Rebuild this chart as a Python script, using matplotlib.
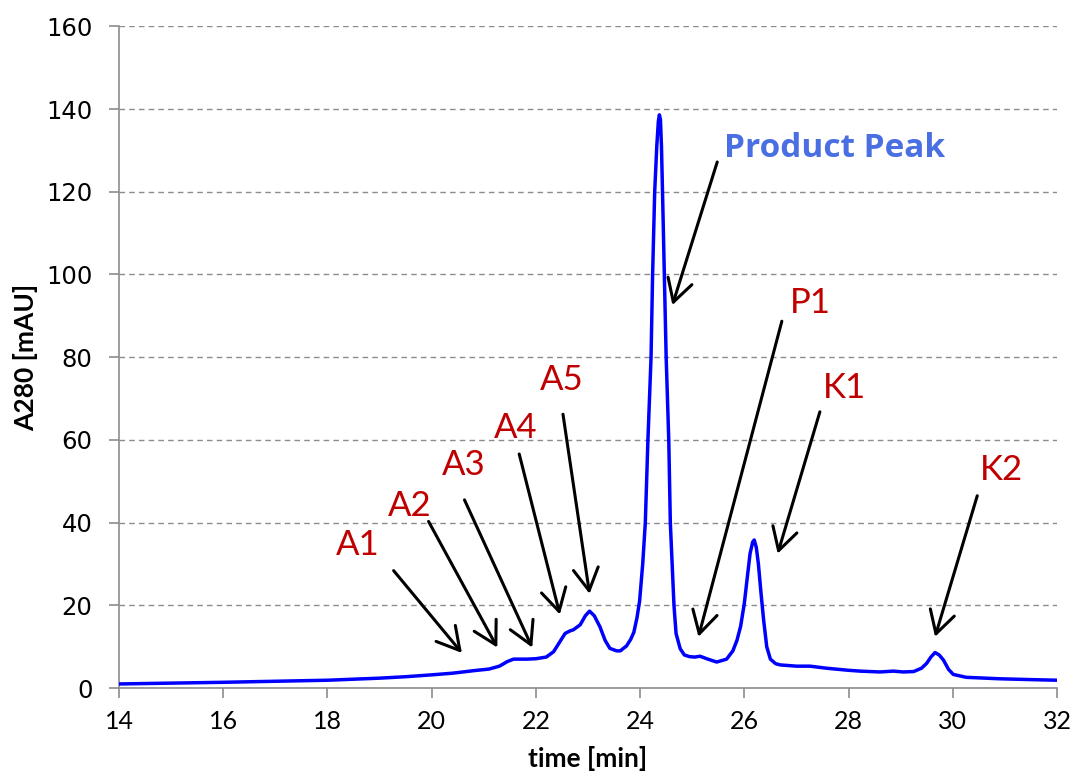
import matplotlib
matplotlib.use("Agg")
import matplotlib.pyplot as plt

# chromatogram
time = [14, 15, 16, 17, 18, 19, 19.5, 20, 20.4, 20.8, 21.1, 21.3, 21.45, 21.57, 21.7,
        21.83, 22.0, 22.2, 22.34, 22.45, 22.56, 22.65, 22.72, 22.85, 22.95, 23.03,
        23.12, 23.23, 23.33, 23.42, 23.55, 23.62, 23.74, 23.82, 23.88, 23.94, 23.99,
        24.05, 24.10, 24.15, 24.21, 24.24, 24.28, 24.32, 24.35, 24.37, 24.39, 24.41,
        24.43, 24.465, 24.50, 24.55, 24.58, 24.65, 24.69, 24.77, 24.85, 24.95, 25.05,
        25.15, 25.3, 25.47, 25.66, 25.78, 25.86, 25.93, 26.0, 26.05, 26.11, 26.16,
        26.19, 26.23, 26.27, 26.32, 26.37, 26.43, 26.5, 26.6, 26.69, 27.0, 27.26,
        27.58, 28.0, 28.22, 28.6, 28.86, 29.05, 29.25, 29.4, 29.5, 29.58, 29.66,
        29.74, 29.82, 29.92, 30.01, 30.26, 30.9, 31.5, 32]
a280 = [1.0, 1.2, 1.4, 1.65, 1.9, 2.4, 2.75, 3.2, 3.6, 4.2, 4.6, 5.3, 6.4, 7.0, 7.0,
        7.0, 7.1, 7.5, 8.8, 11.0, 13.2, 13.8, 14.1, 15.3, 17.5, 18.6,
        17.5, 14.8, 11.5, 9.6, 9.0, 9.0, 10.2, 11.8, 13.5, 17.0, 21.0,
        30.0, 40.0, 60.0, 80.0, 100.0, 120.0, 131.0, 137.0, 138.6, 137.5, 131.0,
        120.0, 100.0, 80.0, 60.0, 40.0, 20.0, 13.2, 9.5, 8.0, 7.6, 7.5,
        7.7, 7.0, 6.3, 7.0, 9.0, 11.6, 15.0, 20.5, 26.0, 32.5, 35.3,
        35.8, 34.0, 30.0, 23.0, 16.5, 10.0, 7.0, 5.9, 5.6, 5.3, 5.3,
        4.8, 4.3, 4.1, 3.9, 4.1, 3.9, 4.0, 4.8, 6.0, 7.5, 8.6,
        8.0, 6.8, 4.5, 3.3, 2.6, 2.25, 2.05, 1.9]

# peak labels: text, text position, arrow tail, arrow head
labels = ["A1", "A2", "A3", "A4", "A5", "P1", "K1", "K2"]
label_xy = [(18.59, 34.7), (19.57, 44.1), (20.62, 53.9), (21.62, 62.9), (22.50, 74.5),
            (27.26, 93.2), (27.92, 72.5), (30.93, 52.8)]
tail_xy = [(19.27, 28.4), (19.94, 40.3), (20.63, 45.5), (21.68, 56.6), (22.52, 66.2),
           (26.72, 88.7), (27.45, 66.8), (30.47, 46.5)]
head_xy = [(20.58, 8.5), (21.26, 9.8), (21.93, 9.8), (22.46, 17.8), (23.03, 22.8),
           (25.12, 12.4), (26.64, 32.5), (29.66, 12.4)]

xticks = [14, 16, 18, 20, 22, 24, 26, 28, 30, 32]
yticks = [0, 20, 40, 60, 80, 100, 120, 140, 160]

fig = plt.figure(figsize=(10.72, 7.74), dpi=100)
ax = fig.add_axes([0.111, 0.111, 0.875, 0.855])

ax.plot(time, a280, color="#0000ff", lw=2.5, solid_joinstyle="round", zorder=3)

ax.set_xlim(14, 32)
ax.set_ylim(0, 160)
ax.set_xticks(xticks)
ax.set_yticks(yticks)
ax.yaxis.grid(True, linestyle=(0, (4, 3)), color="#8c8c8c", lw=1)
ax.set_axisbelow(True)

for s in ["top", "right"]:
    ax.spines[s].set_visible(False)
for s in ["left", "bottom"]:
    ax.spines[s].set_color("#8c8c8c")
    ax.spines[s].set_linewidth(1.2)
ax.tick_params(axis="both", color="#8c8c8c", width=1.2, length=7)
ax.tick_params(axis="x", labelsize=18, pad=9)
ax.tick_params(axis="y", labelsize=17.5, pad=12)
for t in ax.get_xticklabels():
    t.set_family("Lato")

ax.set_xlabel("time [min]", fontsize=19, fontweight="bold", family="Lato", labelpad=9)
ax.set_ylabel("A280 [mAU]", fontsize=19, fontweight="bold", family="Lato", labelpad=6)

arrow = dict(arrowstyle="->, head_length=0.8, head_width=0.45", color="black",
             lw=2.2, shrinkA=0, shrinkB=0, mutation_scale=20)

for name, txt, tail, head in zip(labels, label_xy, tail_xy, head_xy):
    ax.annotate("", xy=head, xytext=tail, arrowprops=arrow)
    ax.text(txt[0], txt[1], name, color="#c00000", fontsize=25, family="Lato",
            ha="center", va="center")

ax.annotate("", xy=(24.62, 92.6), xytext=(25.48, 127.2), arrowprops=arrow)
ax.text(27.74, 130.4, "Product Peak", color="#4a6fe3", fontsize=24,
        fontweight="bold", family="Open Sans", ha="center", va="center")

fig.savefig("out.png", dpi=100)
